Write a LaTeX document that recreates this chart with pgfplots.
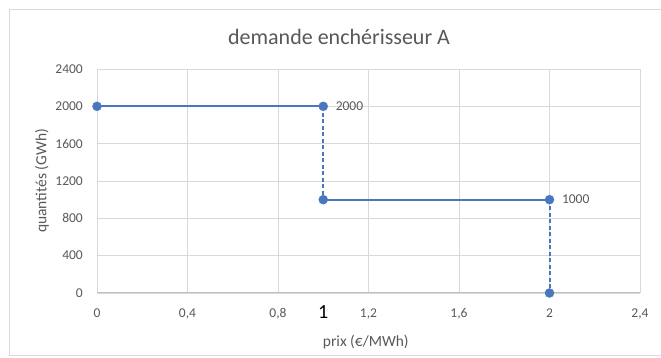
\documentclass[border=0pt]{standalone}
\usepackage{pgfplots}
\pgfplotsset{compat=1.18}
\usepackage{fontspec}
\setmainfont{Carlito}
\definecolor{txtgray}{RGB}{89,89,89}
\definecolor{gridgray}{RGB}{217,217,217}
\definecolor{axgray}{RGB}{191,191,191}
\definecolor{serblue}{RGB}{72,119,192}
\begin{document}
\begin{tikzpicture}[x=1pt,y=1pt]
\useasboundingbox (0,0) rectangle (661,358);
\fill[white] (0,0) rectangle (661,358);
\draw[gridgray, line width=0.8pt] (9,3) rectangle (670,349);
\node[anchor=base, text=txtgray, font=\fontsize{22}{24}\selectfont] at (339,313) {demande enchérisseur A};
\begin{axis}[
  at={(97pt,65pt)}, anchor=south west,
  scale only axis, width=543pt, height=224pt,
  xmin=0, xmax=2.4, ymin=0, ymax=2400,
  xtick={0,0.4,0.8,1.2,1.6,2,2.4},
  xticklabels={0,{0,4},{0,8},{1,2},{1,6},2,{2,4}},
  ytick={0,400,800,1200,1600,2000,2400},
  extra x ticks={1},
  extra x tick labels={1},
  extra x tick style={grid=none, xticklabel style={font=\fontsize{20}{22}\selectfont, text=black, yshift=-1pt}},
  grid=major,
  major grid style={gridgray, line width=0.8pt},
  major tick length=0pt,
  axis x line*=bottom, axis y line*=left,
  x axis line style={axgray, line width=1pt, -},
  y axis line style={draw=none, -},
  xticklabel style={anchor=base, yshift=-25pt, text=txtgray, font=\fontsize{13.5}{15}\selectfont},
  yticklabel style={anchor=east, inner sep=0pt, xshift=-14pt, text=txtgray, font=\fontsize{13.5}{15}\selectfont},
  /pgf/number format/assume math mode=true,
  /pgf/number format/1000 sep={},
  xlabel={prix (€/MWh)},
  ylabel={quantités (GWh)},
  xlabel style={text=txtgray, font=\fontsize{15.5}{17}\selectfont, at={(axis description cs:0.495,0)}, anchor=base, yshift=-54pt},
  ylabel style={text=txtgray, font=\fontsize{15.5}{17}\selectfont, at={(axis description cs:0,0.5)}, anchor=center, yshift=55pt},
  clip=false,
]
\addplot[serblue, line width=2.2pt, mark=none] coordinates {(0,2000) (1,2000)};
\addplot[serblue, line width=2.2pt, mark=none] coordinates {(1,1000) (2,1000)};
\addplot[serblue, line width=2pt, dash pattern=on 4pt off 2.5pt, mark=none] coordinates {(1,2000) (1,1000)};
\addplot[serblue, line width=2pt, dash pattern=on 4pt off 2.5pt, mark=none] coordinates {(2,1000) (2,0)};
\addplot[only marks, mark=*, mark size=4.5pt, mark options={fill=serblue, draw=serblue}] coordinates {(0,2000) (1,2000) (1,1000) (2,1000) (2,0)};
\addplot[only marks, mark=none, nodes near coords, point meta=explicit symbolic,
  every node near coord/.style={anchor=west, xshift=9pt, text=txtgray, font=\fontsize{13.5}{15}\selectfont}]
  coordinates {(1,2000) [2000] (2,1000) [1000]};
\end{axis}
\end{tikzpicture}
\end{document}
